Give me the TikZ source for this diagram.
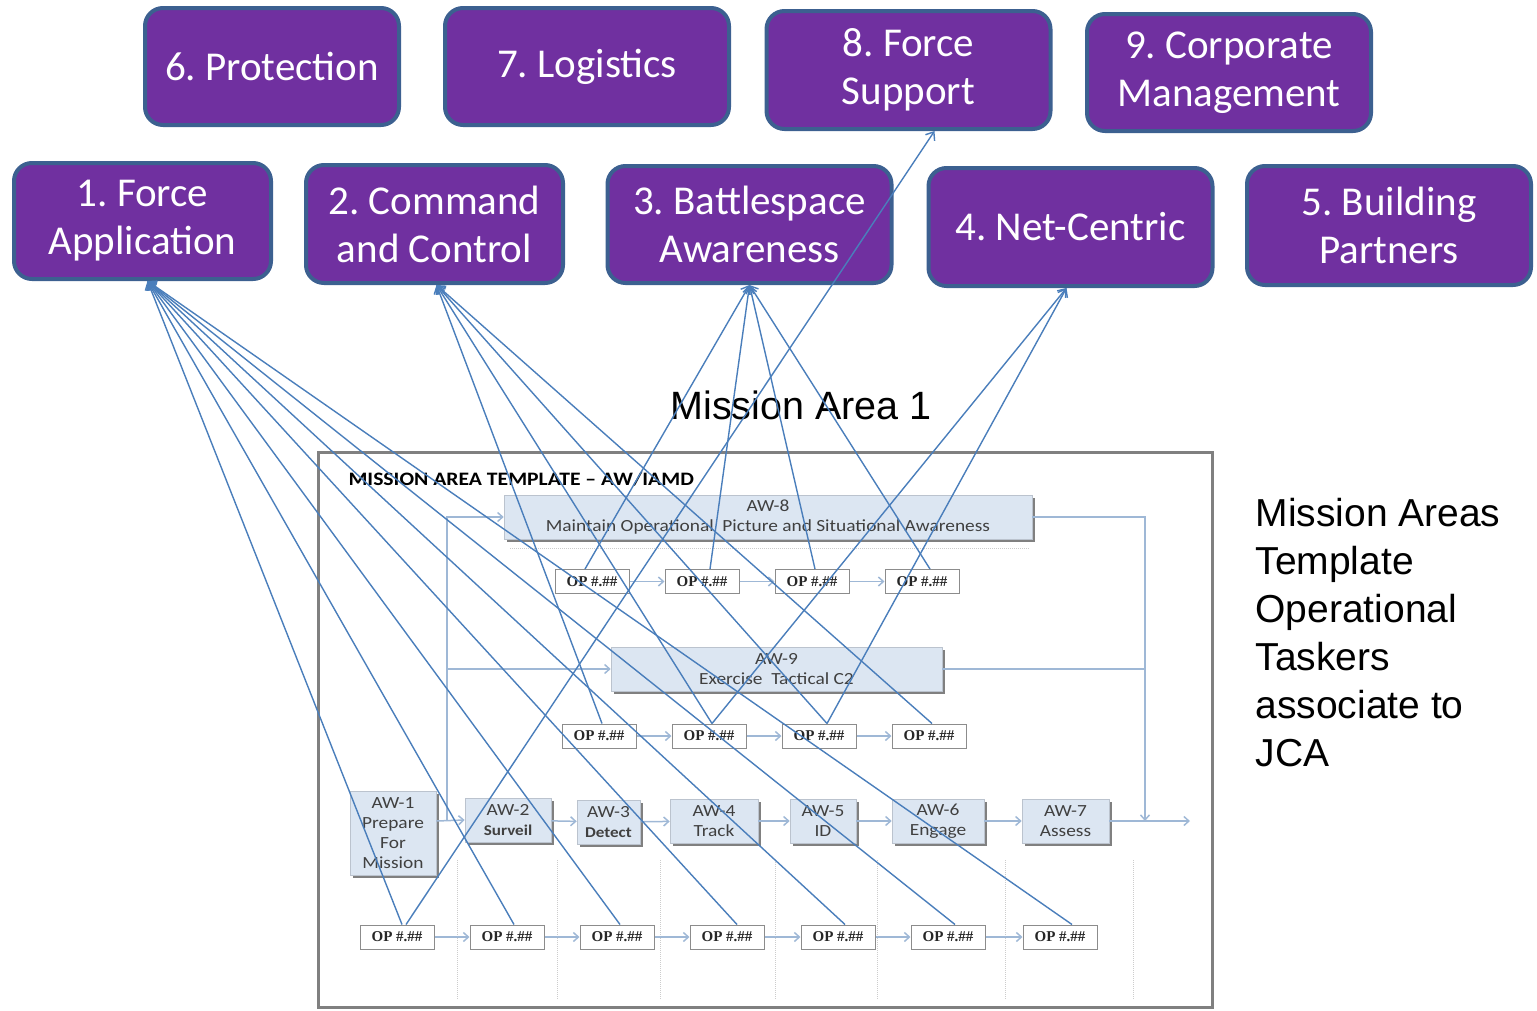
\documentclass[tikz,border=0pt]{standalone}
\usepackage{fontspec}
\setmainfont{Carlito}
\newfontfamily\arialfont{Liberation Sans}
\newfontfamily\opfont{Liberation Serif}
\newfontfamily\awfont{Carlito}[FakeStretch=1.14,Ligatures=TeX]
\frenchspacing
\usepackage{tikz}
\usetikzlibrary{shapes}
\usetikzlibrary{arrows.meta}
\usetikzlibrary{shadows}

\definecolor{jcapurple}{HTML}{7030A0}
\definecolor{jcaedge}{HTML}{3C6090}
\definecolor{awfill}{HTML}{DCE6F2}
\definecolor{flowblue}{HTML}{9FB8D6}
\definecolor{linkblue}{HTML}{4A7EBB}

\begin{document}
\begin{tikzpicture}[x=1pt,y=-1pt,
    jca/.style={rectangle,rounded corners=18pt,draw=jcaedge,line width=4pt,fill=jcapurple,
                text=white,align=center,inner sep=0pt,minimum height=117pt,minimum width=284pt,
                font=\fontsize{41}{48}\selectfont},
    aw/.style={rectangle,fill=awfill,draw=awfill!85!black,line width=0.6pt,inner sep=0pt,
               align=center,text=black!75,minimum height=44pt,font=\awfont\fontsize{17}{20}\selectfont,
               general shadow={fill=black!50,shadow xshift=3pt,shadow yshift=-3pt}},
    op/.style={rectangle,draw=black!45,line width=1pt,fill=white,minimum width=74pt,
               minimum height=24pt,inner sep=0pt,text=black!85,font=\opfont\bfseries\fontsize{15}{15}\selectfont},
    flow/.style={draw=flowblue,line width=1.5pt},
    flowarr/.style={flow,-{Straight Barb[length=5pt,width=9pt]}},
    link/.style={draw=linkblue,line width=1.4pt,-{Straight Barb[length=7pt,width=11pt]}}
  ]
  \useasboundingbox (0,0) rectangle (1537,1010);

  % joint capability areas
  \node[jca,minimum width=254pt] (n6) at (272,66.5) {6. Protection};
  \node[jca] (n7) at (587,66.5) {7. Logistics};
  \node[jca,minimum height=118pt] (n8) at (908.5,70) {8. Force\\Support};
  \node[jca] (n9) at (1229,72.5) {9. Corporate\\Management};
  \node[jca,minimum width=257pt,minimum height=116pt] (n1) at (142.5,221) {1. Force\\Application};
  \node[jca,minimum width=257pt,minimum height=118pt] (n2) at (434.5,224) {2. Command\\and Control};
  \node[jca] (n3) at (749.5,224.5) {3. Battlespace\\Awareness};
  \node[jca,minimum height=118pt] (n4) at (1070.5,227) {4. Net-Centric};
  \node[jca,minimum height=119pt] (n5) at (1389,225.5) {5. Building\\Partners};

  \node[font=\arialfont\fontsize{39.5}{46}\selectfont] (ma) at (801,405) {Mission Area 1};
  \node[anchor=west,align=left,font=\arialfont\fontsize{39}{48}\selectfont] (note) at (1252,633)
    {Mission Areas\\Template\\Operational\\Taskers\\associate to\\JCA};

  % template frame
  \draw[black!50,line width=3pt] (318,452) rectangle (1212,1007);
  \node[anchor=west,font=\awfont\bfseries\fontsize{19}{19}\selectfont] (title) at (345,479)
    {MISSION AREA TEMPLATE – AW/IAMD};
  \draw[black!20,densely dotted,line width=1pt]
    (457,860) -- (457,1000) (557,860) -- (557,1000) (660,860) -- (660,1000)
    (775,860) -- (775,1000) (877,860) -- (877,1000) (1005,860) -- (1005,1000)
    (1133,860) -- (1133,1000) (510,548) -- (1030,548);

  % activities
  \node[aw,minimum width=528pt] (aw8) at (768,517)
    {AW-8\\Maintain Operational\ \ Picture and Situational Awareness};
  \node[aw,minimum width=331pt] (aw9) at (776.5,669) {AW-9\\Exercise\ \ Tactical C2};
  \node[aw,minimum width=86pt,minimum height=84pt] (aw1) at (393,833) {AW-1\\Prepare\\For\\Mission};
  \node[aw,minimum width=86pt] (aw2) at (508,820)
    {AW-2\\{\fontsize{15}{18}\selectfont\bfseries Surveil}};
  \node[aw,minimum width=63pt] (aw3) at (608.5,822)
    {AW-3\\{\fontsize{15}{18}\selectfont\bfseries Detect}};
  \node[aw,minimum width=88pt] (aw4) at (714,821) {AW-4\\Track};
  \node[aw,minimum width=66pt] (aw5) at (823,821) {AW-5\\ID};
  \node[aw,minimum width=92pt] (aw6) at (938,821) {AW-6\\Engage};
  \node[aw,minimum width=87pt] (aw7) at (1065.5,821) {AW-7\\Assess};

  % operational taskers
  \node[op] (op11) at (592,581.5) {OP \#.\#\#};
  \node[op] (op12) at (702,581.5) {OP \#.\#\#};
  \node[op] (op13) at (812,581.5) {OP \#.\#\#};
  \node[op] (op14) at (922,581.5) {OP \#.\#\#};
  \node[op] (op21) at (599,736) {OP \#.\#\#};
  \node[op] (op22) at (709,736) {OP \#.\#\#};
  \node[op] (op23) at (819,736) {OP \#.\#\#};
  \node[op] (op24) at (929,736) {OP \#.\#\#};
  \node[op] (op31) at (397,937) {OP \#.\#\#};
  \node[op] (op32) at (507,937) {OP \#.\#\#};
  \node[op] (op33) at (617,937) {OP \#.\#\#};
  \node[op] (op34) at (727,937) {OP \#.\#\#};
  \node[op] (op35) at (838,937) {OP \#.\#\#};
  \node[op] (op36) at (948,937) {OP \#.\#\#};
  \node[op] (op37) at (1060,937) {OP \#.\#\#};

  % flow
  \coordinate (trunk) at (447,821);
  \coordinate (merge) at (1145,821);
  \coordinate (out) at (1190,821);
  \draw[flowarr] ([yshift=12pt]aw1.east) -- (aw2.west);
  \draw[flowarr] (trunk) |- (aw8.west);
  \draw[flowarr] (trunk) |- (aw9.west);
  \draw[flowarr] (aw8.east) -| (merge);
  \draw[flow] (aw9.east) -| (merge);
  \draw[flowarr] (aw7.east) -- (out);
  \draw[flowarr] (aw2) -- (aw3);
  \draw[flowarr] (aw3) -- (aw4);
  \draw[flowarr] (aw4) -- (aw5);
  \draw[flowarr] (aw5) -- (aw6);
  \draw[flowarr] (aw6) -- (aw7);
  \draw[flowarr] (op11) -- (op12);
  \draw[flowarr] (op12) -- (op13);
  \draw[flowarr] (op13) -- (op14);
  \draw[flowarr] (op21) -- (op22);
  \draw[flowarr] (op22) -- (op23);
  \draw[flowarr] (op23) -- (op24);
  \draw[flowarr] (op31) -- (op32);
  \draw[flowarr] (op32) -- (op33);
  \draw[flowarr] (op33) -- (op34);
  \draw[flowarr] (op34) -- (op35);
  \draw[flowarr] (op35) -- (op36);
  \draw[flowarr] (op36) -- (op37);

  % taskers to JCA
  \draw[link] ([xshift=5pt]op31.north) -- ([xshift=5pt]n1.south);
  \draw[link] ([xshift=7pt]op32.north) -- ([xshift=5pt]n1.south);
  \draw[link] ([xshift=3pt]op33.north) -- ([xshift=5pt]n1.south);
  \draw[link] ([xshift=10pt]op34.north) -- ([xshift=5pt]n1.south);
  \draw[link] ([xshift=7pt]op35.north) -- ([xshift=5pt]n1.south);
  \draw[link] ([xshift=7pt]op36.north) -- ([xshift=5pt]n1.south);
  \draw[link] ([xshift=12pt]op37.north) -- ([xshift=5pt]n1.south);
  \draw[link] ([xshift=9pt]op31.north) -- ([xshift=26pt]n8.south);
  \draw[link] ([xshift=-7pt]op11.north) -- (n3.south);
  \draw[link] ([xshift=8pt]op12.north) -- (n3.south);
  \draw[link] ([xshift=3pt]op13.north) -- (n3.south);
  \draw[link] ([xshift=8pt]op14.north) -- (n3.south);
  \draw[link] ([xshift=3pt]op21.north) -- ([xshift=2pt]n2.south);
  \draw[link] ([xshift=3pt]op22.north) -- ([xshift=2pt]n2.south);
  \draw[link] ([xshift=8pt]op23.north) -- ([xshift=2pt]n2.south);
  \draw[link] ([xshift=3pt]op24.north) -- ([xshift=2pt]n2.south);
  \draw[link] ([xshift=3pt]op22.north) -- ([xshift=-4pt]n4.south);
  \draw[link] ([xshift=8pt]op23.north) -- ([xshift=-4pt]n4.south);
\end{tikzpicture}
\end{document}
